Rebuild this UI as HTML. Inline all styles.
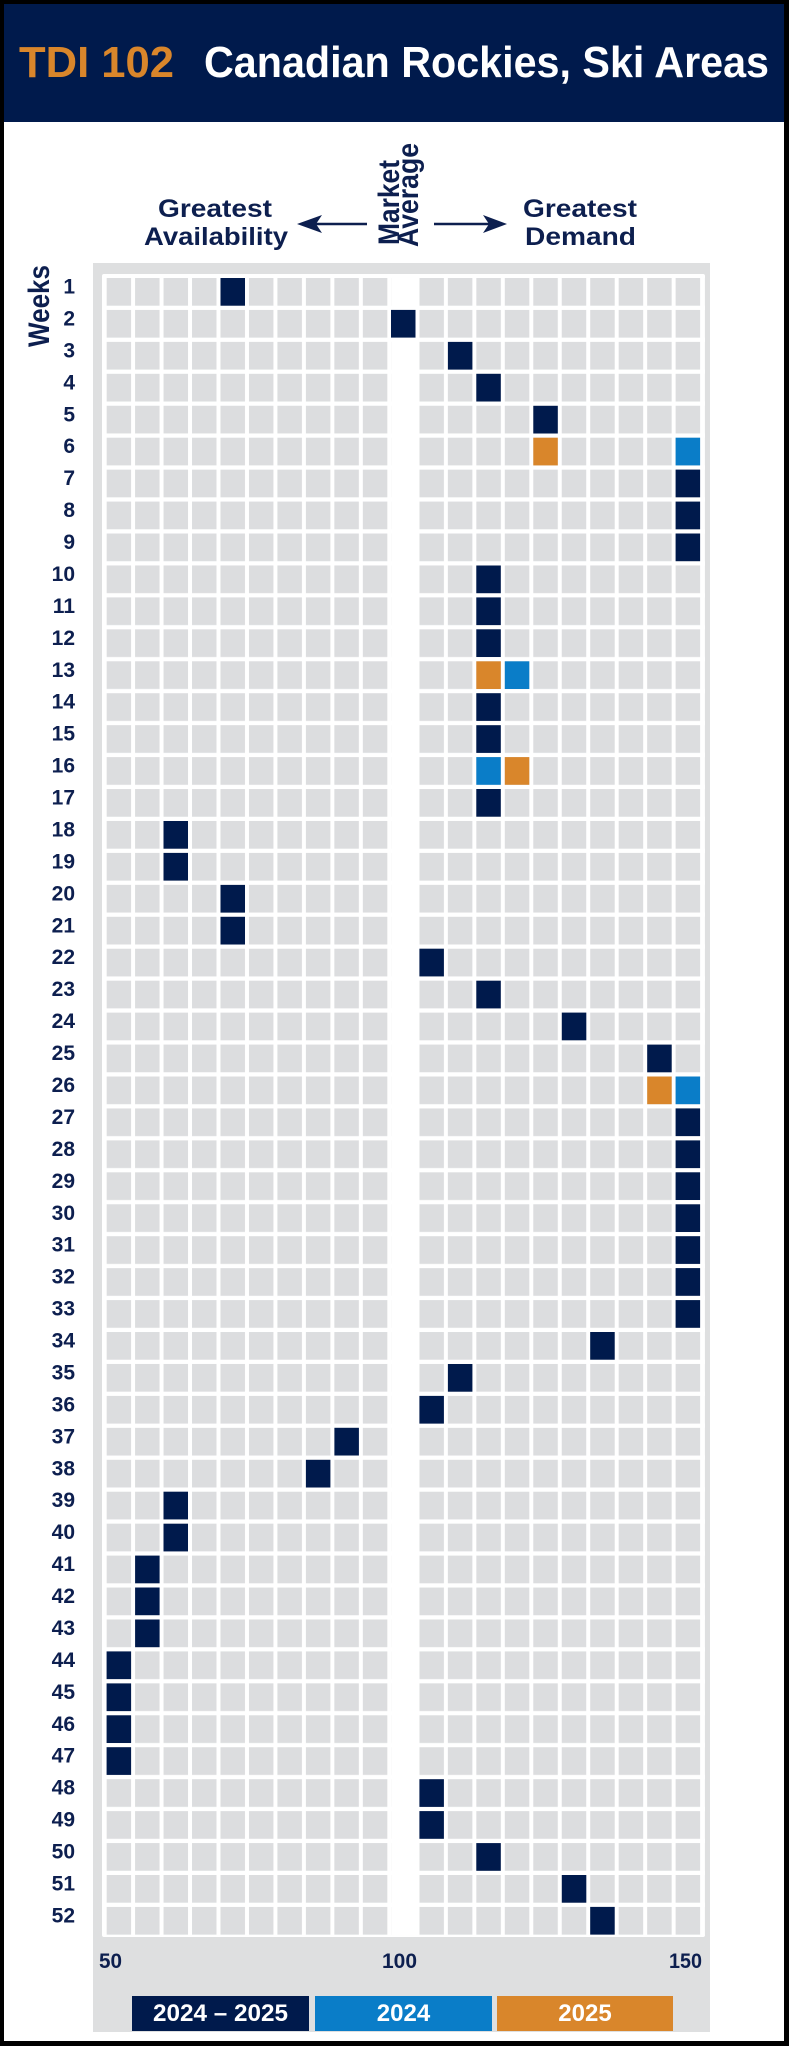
<!DOCTYPE html>
<html><head><meta charset="utf-8"><style>
html,body{margin:0;padding:0;background:#000;}
svg{display:block;}
text{font-family:"Liberation Sans",Arial,sans-serif;font-weight:bold;}
</style></head><body>
<svg width="789" height="2046" viewBox="0 0 789 2046" xmlns="http://www.w3.org/2000/svg">
<defs>
<pattern id="cl" patternUnits="userSpaceOnUse" x="106.6" y="278" width="28.47" height="31.94"><rect x="0" y="0" width="24.5" height="27.7" fill="#dcdddf"/></pattern>
<pattern id="cr" patternUnits="userSpaceOnUse" x="419.4" y="278" width="28.47" height="31.94"><rect x="0" y="0" width="24.5" height="27.7" fill="#dcdddf"/></pattern>
</defs>
<rect x="0" y="0" width="789" height="2046" fill="#000"/>
<rect x="4" y="4" width="780" height="2037" fill="#fff"/>
<rect x="4" y="4" width="780" height="118" fill="#001a4c"/>
<text x="19" y="77" font-size="44" fill="#d9862b" textLength="155" lengthAdjust="spacingAndGlyphs">TDI 102</text>
<text x="204" y="77" font-size="44" fill="#fff" textLength="565" lengthAdjust="spacingAndGlyphs">Canadian Rockies, Ski Areas</text>

<g fill="#0d1f4f">
<text x="158" y="217" font-size="25" textLength="114" lengthAdjust="spacingAndGlyphs">Greatest</text>
<text x="144" y="245" font-size="25" textLength="144" lengthAdjust="spacingAndGlyphs">Availability</text>
<text x="523" y="217" font-size="25" textLength="114" lengthAdjust="spacingAndGlyphs">Greatest</text>
<text x="525" y="245" font-size="25" textLength="111" lengthAdjust="spacingAndGlyphs">Demand</text>
<text transform="translate(399,245) rotate(-90)" font-size="30" textLength="85" lengthAdjust="spacingAndGlyphs">Market</text>
<text transform="translate(418,247) rotate(-90)" font-size="30" textLength="104" lengthAdjust="spacingAndGlyphs">Average</text>
<text transform="translate(49,347) rotate(-90)" font-size="30" textLength="82" lengthAdjust="spacingAndGlyphs">Weeks</text>
</g>
<g stroke="#0d1f4f" stroke-width="2.5"><line x1="367" y1="224" x2="310" y2="224"/><line x1="434" y1="224" x2="494" y2="224"/></g>
<polygon points="297,224 322,215 316,224 322,233" fill="#0d1f4f"/>
<polygon points="507,224 483,215 489,224 483,233" fill="#0d1f4f"/>

<rect x="93" y="263" width="617" height="1769" fill="#dedfe0"/>
<rect x="102" y="274" width="603" height="1663" fill="#fff" rx="2"/>
<rect x="106.6" y="278" width="284.7" height="1660.9" fill="url(#cl)"/>
<rect x="419.4" y="278" width="284.7" height="1660.9" fill="url(#cr)"/>

<g fill="#001a4c">
<rect x="220.5" y="278.0" width="24.5" height="27.7"/>
<rect x="391.0" y="309.9" width="24.5" height="27.7"/>
<rect x="447.9" y="341.9" width="24.5" height="27.7"/>
<rect x="476.3" y="373.8" width="24.5" height="27.7"/>
<rect x="533.3" y="405.8" width="24.5" height="27.7"/>
<rect x="675.6" y="469.6" width="24.5" height="27.7"/>
<rect x="675.6" y="501.6" width="24.5" height="27.7"/>
<rect x="675.6" y="533.5" width="24.5" height="27.7"/>
<rect x="476.3" y="565.5" width="24.5" height="27.7"/>
<rect x="476.3" y="597.4" width="24.5" height="27.7"/>
<rect x="476.3" y="629.3" width="24.5" height="27.7"/>
<rect x="476.3" y="693.2" width="24.5" height="27.7"/>
<rect x="476.3" y="725.2" width="24.5" height="27.7"/>
<rect x="476.3" y="789.0" width="24.5" height="27.7"/>
<rect x="163.5" y="821.0" width="24.5" height="27.7"/>
<rect x="163.5" y="852.9" width="24.5" height="27.7"/>
<rect x="220.5" y="884.9" width="24.5" height="27.7"/>
<rect x="220.5" y="916.8" width="24.5" height="27.7"/>
<rect x="419.4" y="948.7" width="24.5" height="27.7"/>
<rect x="476.3" y="980.7" width="24.5" height="27.7"/>
<rect x="561.8" y="1012.6" width="24.5" height="27.7"/>
<rect x="647.2" y="1044.6" width="24.5" height="27.7"/>
<rect x="675.6" y="1108.4" width="24.5" height="27.7"/>
<rect x="675.6" y="1140.4" width="24.5" height="27.7"/>
<rect x="675.6" y="1172.3" width="24.5" height="27.7"/>
<rect x="675.6" y="1204.3" width="24.5" height="27.7"/>
<rect x="675.6" y="1236.2" width="24.5" height="27.7"/>
<rect x="675.6" y="1268.1" width="24.5" height="27.7"/>
<rect x="675.6" y="1300.1" width="24.5" height="27.7"/>
<rect x="590.2" y="1332.0" width="24.5" height="27.7"/>
<rect x="447.9" y="1364.0" width="24.5" height="27.7"/>
<rect x="419.4" y="1395.9" width="24.5" height="27.7"/>
<rect x="334.4" y="1427.8" width="24.5" height="27.7"/>
<rect x="305.9" y="1459.8" width="24.5" height="27.7"/>
<rect x="163.5" y="1491.7" width="24.5" height="27.7"/>
<rect x="163.5" y="1523.7" width="24.5" height="27.7"/>
<rect x="135.1" y="1555.6" width="24.5" height="27.7"/>
<rect x="135.1" y="1587.5" width="24.5" height="27.7"/>
<rect x="135.1" y="1619.5" width="24.5" height="27.7"/>
<rect x="106.6" y="1651.4" width="24.5" height="27.7"/>
<rect x="106.6" y="1683.4" width="24.5" height="27.7"/>
<rect x="106.6" y="1715.3" width="24.5" height="27.7"/>
<rect x="106.6" y="1747.2" width="24.5" height="27.7"/>
<rect x="419.4" y="1779.2" width="24.5" height="27.7"/>
<rect x="419.4" y="1811.1" width="24.5" height="27.7"/>
<rect x="476.3" y="1843.1" width="24.5" height="27.7"/>
<rect x="561.8" y="1875.0" width="24.5" height="27.7"/>
<rect x="590.2" y="1906.9" width="24.5" height="27.7"/>
</g>
<g fill="#d9862b">
<rect x="533.3" y="437.7" width="24.5" height="27.7"/>
<rect x="476.3" y="661.3" width="24.5" height="27.7"/>
<rect x="504.8" y="757.1" width="24.5" height="27.7"/>
<rect x="647.2" y="1076.5" width="24.5" height="27.7"/>
</g>
<g fill="#0a7dc8">
<rect x="675.6" y="437.7" width="24.5" height="27.7"/>
<rect x="504.8" y="661.3" width="24.5" height="27.7"/>
<rect x="476.3" y="757.1" width="24.5" height="27.7"/>
<rect x="675.6" y="1076.5" width="24.5" height="27.7"/>
</g>

<g fill="#0d1f4f" font-size="21" text-anchor="end">
<text x="75" y="293.5">1</text><text x="75" y="325.4">2</text><text x="75" y="357.4">3</text><text x="75" y="389.3">4</text>
<text x="75" y="421.3">5</text><text x="75" y="453.2">6</text><text x="75" y="485.1">7</text><text x="75" y="517.1">8</text>
<text x="75" y="549.0">9</text><text x="75" y="581.0">10</text><text x="75" y="612.9">11</text><text x="75" y="644.8">12</text>
<text x="75" y="676.8">13</text><text x="75" y="708.7">14</text><text x="75" y="740.7">15</text><text x="75" y="772.6">16</text>
<text x="75" y="804.5">17</text><text x="75" y="836.5">18</text><text x="75" y="868.4">19</text><text x="75" y="900.4">20</text>
<text x="75" y="932.3">21</text><text x="75" y="964.2">22</text><text x="75" y="996.2">23</text><text x="75" y="1028.1">24</text>
<text x="75" y="1060.1">25</text><text x="75" y="1092.0">26</text><text x="75" y="1123.9">27</text><text x="75" y="1155.9">28</text>
<text x="75" y="1187.8">29</text><text x="75" y="1219.8">30</text><text x="75" y="1251.7">31</text><text x="75" y="1283.6">32</text>
<text x="75" y="1315.6">33</text><text x="75" y="1347.5">34</text><text x="75" y="1379.5">35</text><text x="75" y="1411.4">36</text>
<text x="75" y="1443.3">37</text><text x="75" y="1475.3">38</text><text x="75" y="1507.2">39</text><text x="75" y="1539.2">40</text>
<text x="75" y="1571.1">41</text><text x="75" y="1603.0">42</text><text x="75" y="1635.0">43</text><text x="75" y="1666.9">44</text>
<text x="75" y="1698.9">45</text><text x="75" y="1730.8">46</text><text x="75" y="1762.7">47</text><text x="75" y="1794.7">48</text>
<text x="75" y="1826.6">49</text><text x="75" y="1858.6">50</text><text x="75" y="1890.5">51</text><text x="75" y="1922.4">52</text>
</g>

<g fill="#0d1f4f" font-size="21">
<text x="99" y="1968" textLength="23" lengthAdjust="spacingAndGlyphs">50</text>
<text x="382" y="1968" textLength="35" lengthAdjust="spacingAndGlyphs">100</text>
<text x="669" y="1968" textLength="33" lengthAdjust="spacingAndGlyphs">150</text>
</g>

<rect x="132" y="1996" width="177" height="35" fill="#001a4c"/>
<rect x="315" y="1996" width="177" height="35" fill="#0a7dc8"/>
<rect x="497" y="1996" width="176" height="35" fill="#d9862b"/>
<g fill="#fff" font-size="24" text-anchor="middle">
<text x="220.5" y="2021" textLength="135" lengthAdjust="spacingAndGlyphs">2024 – 2025</text>
<text x="403.5" y="2021">2024</text>
<text x="585" y="2021">2025</text>
</g>
</svg>
</body></html>
